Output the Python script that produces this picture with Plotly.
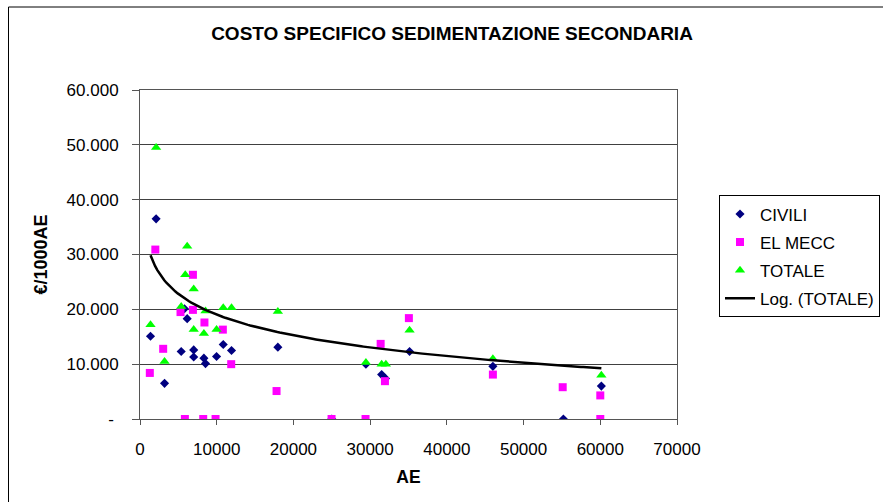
import numpy as np
import plotly.graph_objects as go

# Costo specifico (€/1000AE) per impianto, in funzione degli abitanti equivalenti
civili_ae = [1370, 2100, 3200, 5370, 5800, 6150, 7000, 7000, 8330, 8540, 9980,
             10850, 11930, 17970, 25000, 29450, 31500, 32000, 35140, 46000,
             55190, 60140]
civili_val = [15100, 36500, 6500, 12300, 20100, 18300, 12600, 11300, 11100,
              10100, 11400, 13600, 12500, 13100, 0, 10000, 8100, 7400, 12300,
              9600, 0, 6000]

elmecc_ae = [1280, 2000, 3020, 5280, 5850, 6900, 6900, 8400, 8240, 9850, 10800,
             11890, 17800, 24970, 29400, 31370, 31930, 35050, 46000, 55100,
             60000, 60000]
elmecc_val = [8400, 30900, 12800, 19500, 0, 26300, 19900, 17600, 0, 0, 16300,
              10000, 5100, 0, 0, 13700, 6900, 18400, 8100, 5800, 4300, 0]

totale_ae = [1370, 2100, 3200, 5370, 5900, 6150, 7000, 7000, 8540, 8330, 9980,
             10850, 11930, 17970, 29450, 31500, 32050, 35140, 46000, 60140]
totale_val = [17200, 49500, 10500, 20500, 26300, 31500, 23700, 16300, 19700,
              15600, 16300, 20300, 20300, 19600, 10300, 10000, 10000, 16200,
              11000, 8000]

x_ticks = [0, 10000, 20000, 30000, 40000, 50000, 60000, 70000]
y_ticks = [0, 10000, 20000, 30000, 40000, 50000, 60000]
y_tick_text = ["-\u00a0", "10.000", "20.000", "30.000", "40.000", "50.000", "60.000"]

FONT = "Liberation Sans, Arial, sans-serif"

# Linea di tendenza logaritmica sui valori TOTALE: y = a*ln(x) + b
a, b = np.polyfit(np.log(totale_ae), totale_val, 1)
trend_x = np.linspace(min(totale_ae), max(totale_ae), 200)
trend_y = a * np.log(trend_x) + b

fig = go.Figure()
fig.add_trace(go.Scatter(
    x=civili_ae, y=civili_val, mode="markers", name="CIVILI",
    legendgroup="c",
    marker=dict(symbol="diamond", size=7, color="#000080", line=dict(width=0)),
))
fig.add_trace(go.Scatter(
    x=elmecc_ae, y=elmecc_val, mode="markers", name="EL MECC",
    legendgroup="m",
    marker=dict(symbol="square", size=8, color="#FF00FF", line=dict(width=0)),
))
fig.add_trace(go.Scatter(
    x=totale_ae, y=totale_val, mode="markers", name="TOTALE",
    legendgroup="t",
    marker=dict(symbol="triangle-up", size=9, color="#00FF00", line=dict(width=0)),
))
fig.add_trace(go.Scatter(
    x=trend_x, y=trend_y, mode="lines", name="Log. (TOTALE)",
    legendgroup="l",
    line=dict(color="black", width=2.5),
))

fig.update_layout(
    width=883, height=502,
    margin=dict(l=140, r=206, t=90, b=83, autoexpand=False),
    paper_bgcolor="white", plot_bgcolor="white",
    font=dict(family=FONT, size=17, color="black"),
    title=dict(
        text="<b>COSTO SPECIFICO SEDIMENTAZIONE SECONDARIA</b>",
        font=dict(family=FONT, size=19, color="black"),
        x=(452 - 140) / 537, xref="paper", xanchor="center",
        y=1 - 33 / 502, yref="container", yanchor="middle",
    ),
    showlegend=True,
    legend=dict(
        x=(719 - 140) / 537, y=(418.6 - 195) / 329, xanchor="left", yanchor="top",
        bordercolor="black", borderwidth=1, bgcolor="white",
        font=dict(family=FONT, size=17, color="black"),
        tracegroupgap=3,
    ),
    shapes=[dict(
        type="rect", xref="paper", yref="paper",
        x0=(8.5 - 140) / 537, x1=(900 - 140) / 537,
        y0=(419 - 520) / 329, y1=(419 - 7) / 329,
        line=dict(color="black", width=1), fillcolor="rgba(0,0,0,0)",
        layer="below",
    )],
)

fig.update_xaxes(
    range=[0, 70000], tickvals=x_ticks, ticktext=[str(v) for v in x_ticks],
    showgrid=False, zeroline=False,
    showline=True, linecolor="#555555", linewidth=1, mirror=True,
    ticks="outside", ticklen=5, tickcolor="#555555", ticklabelstandoff=10,
    tickfont=dict(family=FONT, size=17, color="black"),
    title=dict(text="<b>AE</b>", font=dict(family=FONT, size=17.5, color="black"),
               standoff=12),
)
fig.update_yaxes(
    range=[0, 60000], tickvals=y_ticks, ticktext=y_tick_text,
    showgrid=True, gridcolor="#404040", gridwidth=1, zeroline=False,
    showline=True, linecolor="#555555", linewidth=1, mirror=True,
    ticks="outside", ticklen=7, tickcolor="#555555", ticklabelstandoff=10,
    tickfont=dict(family=FONT, size=17, color="black"),
    title=dict(text="<b>€/1000AE</b>", font=dict(family=FONT, size=18, color="black"),
               standoff=14),
)

fig.write_html("out.html")
